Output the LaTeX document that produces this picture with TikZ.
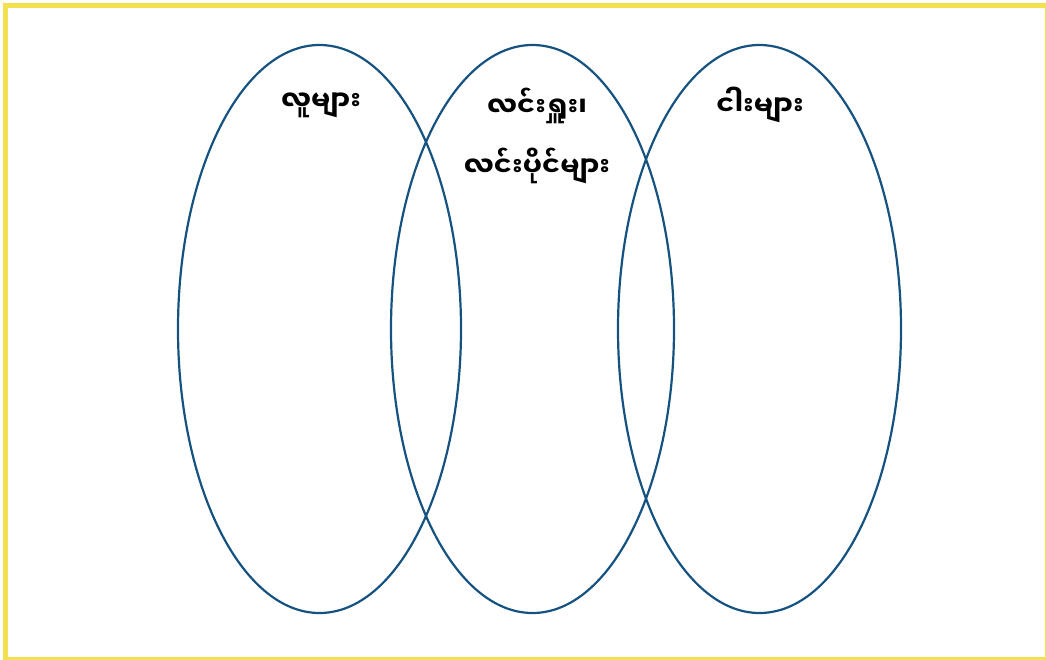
\documentclass[tikz,border=0pt]{standalone}
\usepackage{fontspec}
\newfontfamily\mmfont[Script=Myanmar]{Noto Sans Myanmar UI}
\usepackage{tikz}
\usetikzlibrary{positioning, shapes.geometric}
\definecolor{ringblue}{RGB}{22, 82, 128}
\definecolor{frameyellow}{RGB}{245, 224, 82}

\begin{document}
\begin{tikzpicture}[
  x=1pt, y=-1pt,
  setring/.style={draw=ringblue, line width=2.2pt, ellipse, minimum width=283pt, minimum height=568pt, inner sep=0pt},
  setlabel/.style={font=\mmfont\bfseries\fontsize{27}{60}\selectfont, align=center, inner sep=0pt, text=black}
]
  \useasboundingbox (0,0) rectangle (1046,659);

  % Frame
  \draw[frameyellow, line width=5pt] (5.5,5.5) rectangle (1047,659.5);

  % Sets
  \node[setring] (people)  at (319.5,329) {};
  \node[setring] (dolphin) at (532.5,329) {};
  \node[setring] (fish)    at (759.5,329) {};

  % Labels
  \node[setlabel] (peoplelbl)  at (321,105) {လူများ};
  \node[setlabel] (dolphinlbl) at (537,136) {လင်းရှူး၊\\လင်းပိုင်များ};
  \node[setlabel] (fishlbl)    at (760,105) {ငါးများ};

\end{tikzpicture}
\end{document}
